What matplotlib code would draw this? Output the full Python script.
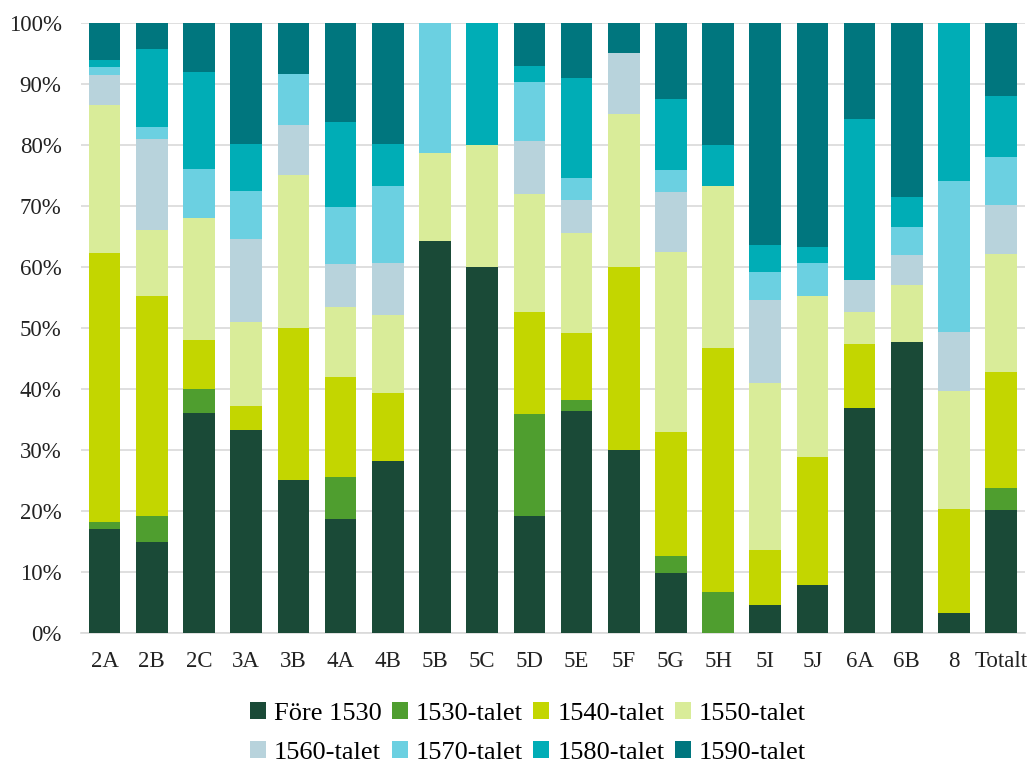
import numpy as np
import matplotlib
matplotlib.use('Agg')
import matplotlib.pyplot as plt

plt.rcParams['font.family'] = ['Liberation Serif', 'DejaVu Serif']

# Categories (kvarter / areas) and the share per decade, in percent
categories = ['2A', '2B', '2C', '3A', '3B', '4A', '4B', '5B', '5C', '5D',
              '5E', '5F', '5G', '5H', '5I', '5J', '6A', '6B', '8', 'Totalt']

fore_1530 = [17.0, 14.9, 36.0, 33.3, 25.0, 18.6, 28.1, 64.3, 60.0, 19.2,
             36.4, 30.0, 9.8, 0.0, 4.5, 7.9, 36.8, 47.6, 3.2, 20.1]
talet_1530 = [1.2, 4.2, 4.0, 0.0, 0.0, 7.0, 0.0, 0.0, 0.0, 16.7,
              1.8, 0.0, 2.7, 6.7, 0.0, 0.0, 0.0, 0.0, 0.0, 3.6]
talet_1540 = [44.0, 36.2, 8.0, 3.9, 25.0, 16.3, 11.2, 0.0, 0.0, 16.7,
              10.9, 30.0, 20.4, 40.0, 9.1, 21.0, 10.5, 0.0, 17.1, 19.0]
talet_1550 = [24.4, 10.7, 20.0, 13.7, 25.0, 11.6, 12.8, 14.3, 20.0, 19.3,
              16.4, 25.0, 29.6, 26.6, 27.3, 26.3, 5.3, 9.5, 19.4, 19.4]
talet_1560 = [4.8, 14.9, 0.0, 13.7, 8.3, 7.0, 8.5, 0.0, 0.0, 8.8,
              5.5, 10.0, 9.8, 0.0, 13.6, 0.0, 5.3, 4.8, 9.7, 8.0]
talet_1570 = [1.3, 2.0, 8.0, 7.8, 8.4, 9.3, 12.6, 21.4, 0.0, 9.7,
              3.6, 0.0, 3.6, 0.0, 4.6, 5.4, 0.0, 4.7, 24.7, 8.0]
talet_1580 = [1.2, 12.9, 16.0, 7.8, 0.0, 14.0, 7.0, 0.0, 20.0, 2.5,
              16.4, 0.0, 11.6, 6.7, 4.5, 2.6, 26.3, 4.8, 25.9, 9.9]
talet_1590 = [6.1, 4.2, 8.0, 19.8, 8.3, 16.2, 19.8, 0.0, 0.0, 7.1,
              9.0, 5.0, 12.5, 20.0, 36.4, 36.8, 15.8, 28.6, 0.0, 12.0]

series_names = ['Före 1530', '1530-talet', '1540-talet', '1550-talet',
                '1560-talet', '1570-talet', '1580-talet', '1590-talet']
series_values = [fore_1530, talet_1530, talet_1540, talet_1550,
                 talet_1560, talet_1570, talet_1580, talet_1590]
colors = ['#1a4a37', '#4f9e2f', '#c3d600', '#d9ec99',
          '#b8d3dc', '#6bd0e1', '#00adb6', '#00767e']

fig = plt.figure(figsize=(10.31, 7.66), dpi=100)
ax = fig.add_axes([0.0786, 0.174, 0.9154, 0.796])

x = np.arange(len(categories))
bottom = np.zeros(len(categories))
handles = []
for name, vals, col in zip(series_names, series_values, colors):
    vals = np.array(vals)
    b = ax.bar(x, vals, bottom=bottom, width=0.67, color=col, label=name, zorder=3)
    handles.append(b)
    bottom += vals

ax.set_xlim(-0.5, len(categories) - 0.5)
ax.set_ylim(0, 100)
ax.set_yticks(np.arange(0, 101, 10))
ax.set_yticklabels([f'{v}%' for v in range(0, 101, 10)], fontsize=16.5, color='#222222')
ax.set_xticks(x)
ax.set_xticklabels(categories, fontsize=16.5, color='#222222')
ax.tick_params(axis='x', length=0, pad=13)
ax.tick_params(axis='y', length=0, pad=14)

ax.grid(axis='y', color='#d9d9d9', linewidth=1.2, zorder=0)
for s in ['top', 'right', 'left']:
    ax.spines[s].set_visible(False)
ax.spines['bottom'].set_color('#d9d9d9')
ax.spines['bottom'].set_linewidth(1.2)

# legend: two rows of four, filled row-wise
order = [0, 4, 1, 5, 2, 6, 3, 7]
leg = fig.legend([handles[i] for i in order], [series_names[i] for i in order],
                 ncol=4, loc='center', bbox_to_anchor=(0.512, 0.043),
                 frameon=False, fontsize=19, handlelength=0.6, handleheight=0.6,
                 handletextpad=0.3, columnspacing=0.4, labelspacing=0.6)

plt.savefig('out.png', dpi=100)
